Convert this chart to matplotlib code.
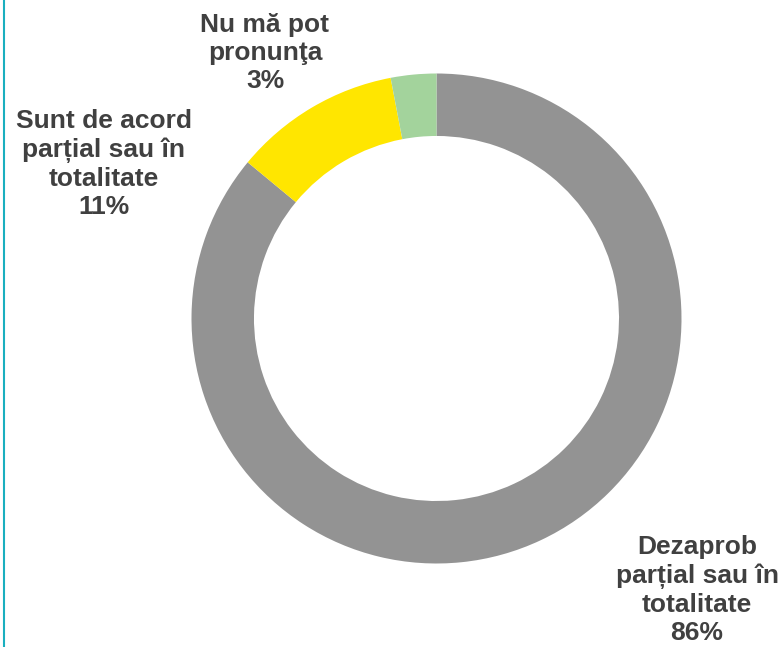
import matplotlib
matplotlib.use("Agg")
import matplotlib.pyplot as plt
from matplotlib.lines import Line2D

categories = ["Dezaprob\nparțial sau în\ntotalitate", "Sunt de acord\nparțial sau în\ntotalitate", "Nu mă pot\npronunţa"]
values = [86, 11, 3]
colors = ["#939393", "#FFE600", "#A3D39C"]

W, H = 781, 647
fig = plt.figure(figsize=(W/100, H/100), dpi=100)
cx, cy, r = 436.5, 318.5, 245
ax = fig.add_axes([(cx - r)/W, (H - cy - r)/H, 2*r/W, 2*r/H])
ax.pie(values, colors=colors, startangle=90, counterclock=False, radius=1,
       wedgeprops=dict(width=0.255, edgecolor="none"))
ax.set_xlim(-1, 1)
ax.set_ylim(-1, 1)
ax.set_aspect("equal")
ax.axis("off")

label_pos = [(697, 590), (104, 164), (265, 53)]
for cat, v, (x, y) in zip(categories, values, label_pos):
    fig.text(x/W, 1 - y/H, f"{cat}\n{v}%", ha="center", va="center",
             fontsize=19, fontweight="bold", color="#404040",
             family=["Liberation Sans", "DejaVu Sans"], linespacing=1.22)

fig.add_artist(Line2D([4/W, 4/W], [0, 1], color="#1AAFBF", linewidth=1.5,
                      transform=fig.transFigure))

fig.savefig("out.png", dpi=100)
